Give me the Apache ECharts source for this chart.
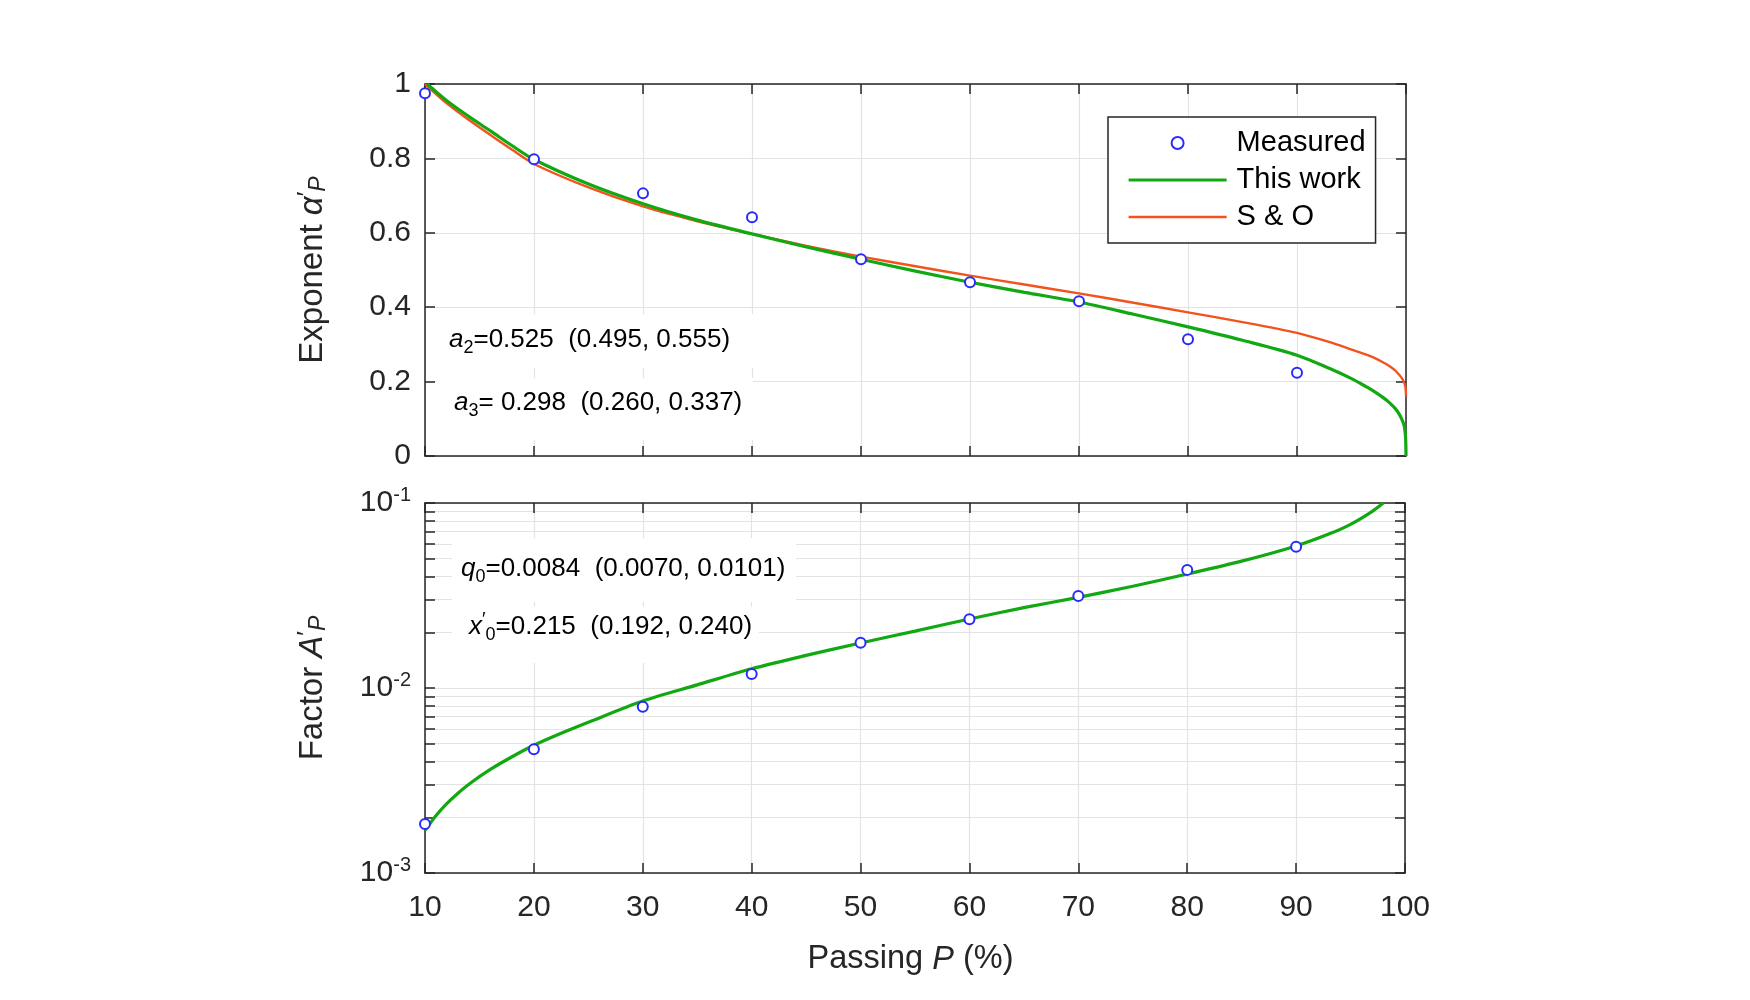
<!DOCTYPE html>
<html><head><meta charset="utf-8">
<script src="https://cdn.jsdelivr.net/npm/echarts@6/dist/echarts.min.js"></script>
<style>html,body{margin:0;padding:0;background:#fff}#c{width:1750px;height:1000px}</style>
</head><body><div id="c"></div>
<script>
// ---------- data ----------
const measuredP = [10, 20, 30, 40, 50, 60, 70, 80, 90];
const measuredAlpha = [0.975, 0.798, 0.706, 0.642, 0.529, 0.467, 0.416, 0.314, 0.224];
const measuredA = [0.00184, 0.00467, 0.00792, 0.0119, 0.01754, 0.0235, 0.0314, 0.0435, 0.058];

const thisWorkAlphaP = [10.2, 12, 14, 16, 18, 20, 25, 30, 35, 40, 45, 50, 55, 60, 65, 70, 75, 80, 85, 90, 93, 95, 96.3, 97, 98, 98.5, 99, 99.35, 99.6, 99.8, 99.9, 99.97, 100];
const thisWorkAlpha  = [1.0, 0.955, 0.913, 0.874, 0.834, 0.797, 0.731, 0.678, 0.634, 0.597, 0.562, 0.529, 0.497, 0.467, 0.44, 0.414, 0.381, 0.347, 0.311, 0.271, 0.235, 0.208, 0.187, 0.175, 0.155, 0.143, 0.128, 0.114, 0.1, 0.085, 0.07, 0.045, 0.0];

const soAlphaP = [10, 12, 14, 16, 18, 20, 25, 30, 35, 40, 45, 50, 55, 60, 65, 70, 75, 80, 85, 90, 93, 95, 96.3, 97, 98, 98.5, 99, 99.35, 99.6, 99.8, 99.95, 100];
const soAlpha  = [1.0, 0.948, 0.904, 0.863, 0.823, 0.785, 0.722, 0.671, 0.631, 0.597, 0.565, 0.536, 0.51, 0.485, 0.461, 0.437, 0.412, 0.386, 0.36, 0.331, 0.306, 0.286, 0.273, 0.265, 0.25, 0.241, 0.23, 0.219, 0.21, 0.2, 0.185, 0.16];

const thisWorkAP = [10, 11, 12, 13, 14, 16, 18, 20, 22.5, 25, 30, 35, 40, 45, 50, 55, 60, 65, 70, 75, 80, 85, 90, 93, 95, 97, 98];
const thisWorkA  = [0.0017, 0.00204, 0.00237, 0.00269, 0.00301, 0.00363, 0.00425, 0.0049, 0.00569, 0.00653, 0.00851, 0.0104, 0.0127, 0.015, 0.0175, 0.0203, 0.0236, 0.0272, 0.0309, 0.0355, 0.0413, 0.0485, 0.0586, 0.0679, 0.0767, 0.0902, 0.1];

const xTickValues = [10, 20, 30, 40, 50, 60, 70, 80, 90, 100];
const alphaTickValues = [0, 0.2, 0.4, 0.6, 0.8, 1];
const aMajorTicks = [0.001, 0.01, 0.1];
const aMinorTicks = [0.002, 0.003, 0.004, 0.005, 0.006, 0.007, 0.008, 0.009, 0.02, 0.03, 0.04, 0.05, 0.06, 0.07, 0.08, 0.09];

const legendNames = ['Measured', 'This work', 'S & O'];
const annTop = ['=0.525  (0.495, 0.555)', '= 0.298  (0.260, 0.337)'];
const annBottom = ['=0.0084  (0.0070, 0.0101)', '=0.215  (0.192, 0.240)'];

// ---------- styles ----------
const FONT = '"Liberation Sans", Arial, Helvetica, sans-serif';
const AX = '#262626';
const GRIDC = '#e3e3e3';
const GREEN = '#12a812';
const RED = '#f2531d';
const BLUE = '#2a2aff';
const TICKFS = 30;

const zip = (a, b) => a.map((v, i) => [v, b[i]]);

function xAx(gridIndex, opts) {
  return Object.assign({
    type: 'value', gridIndex, min: 10, max: 100, interval: 10,
    axisLine: { show: true, onZero: false, lineStyle: { color: AX, width: 1.5 } },
    axisTick: { show: true, inside: true, length: 10, lineStyle: { color: AX, width: 1.5 } },
    axisLabel: { show: false },
    splitLine: { show: false }
  }, opts);
}

const sideAxisCommon = {
  axisLine: { show: true, onZero: false, lineStyle: { color: AX, width: 1.5 } },
  axisTick: { show: true, inside: true, length: 10, lineStyle: { color: AX, width: 1.5 } },
};

function nameRich(fs) {
  return {
    n: { fontSize: fs, color: AX, fontFamily: FONT },
    i: { fontSize: fs, color: AX, fontFamily: FONT, fontStyle: 'italic' },
    p: { fontSize: fs * 0.75, color: AX, fontFamily: FONT, verticalAlign: 'top' },
    s: { fontSize: fs * 0.7, color: AX, fontFamily: FONT, fontStyle: 'italic', verticalAlign: 'bottom', padding: [12, 0, 0, 0] }
  };
}

function annRich() {
  return {
    i: { fontSize: 26, fill: '#000', fontFamily: FONT, fontStyle: 'italic', lineHeight: 32 },
    t: { fontSize: 26, fill: '#000', fontFamily: FONT, lineHeight: 32 },
    b: { fontSize: 18, fill: '#000', fontFamily: FONT, verticalAlign: 'bottom', padding: [16, 0, 0, 0] },
    p: { fontSize: 19, fill: '#000', fontFamily: FONT, verticalAlign: 'top' }
  };
}

const option = {
  animation: false,
  backgroundColor: '#ffffff',
  textStyle: { fontFamily: FONT },
  grid: [
    { left: 425, top: 84, width: 981, height: 372 },
    { left: 425, top: 503, width: 980, height: 370 }
  ],
  xAxis: [
    xAx(0, { splitLine: { show: true, lineStyle: { color: GRIDC, width: 1.2 } } }),
    xAx(0, { position: 'top' }),
    xAx(1, {
      splitLine: { show: true, lineStyle: { color: GRIDC, width: 1.2 } },
      axisLabel: { show: true, margin: 20, fontSize: TICKFS, color: AX, fontFamily: FONT },
      name: '{n|Passing }{i|P}{n| (%)}', nameLocation: 'middle', nameGap: 70,
      nameTextStyle: { padding: [0, 9, 0, 0], rich: nameRich(32.5) }
    }),
    xAx(1, { position: 'top' })
  ],
  yAxis: [
    Object.assign({}, sideAxisCommon, {
      type: 'value', gridIndex: 0, min: 0, max: 1, interval: 0.2, position: 'left',
      axisLabel: { show: true, margin: 14, fontSize: TICKFS, color: AX, fontFamily: FONT },
      splitLine: { show: true, lineStyle: { color: GRIDC, width: 1.2 } },
      name: '{n|Exponent }{i|α}{p|′}{s|P}', nameLocation: 'middle', nameGap: 95, nameRotate: 90,
      nameTextStyle: { rich: nameRich(33) }
    }),
    Object.assign({}, sideAxisCommon, {
      type: 'value', gridIndex: 0, min: 0, max: 1, interval: 0.2, position: 'right',
      axisLabel: { show: false }, splitLine: { show: false }
    }),
    Object.assign({}, sideAxisCommon, {
      type: 'log', logBase: 10, gridIndex: 1, min: 0.001, max: 0.1, position: 'left',
      axisTick: { show: true, inside: true, length: 10, lineStyle: { color: AX, width: 1.5 },
        customValues: aMajorTicks.concat(aMinorTicks) },
      axisLabel: { show: true, margin: 14, customValues: aMajorTicks,
        formatter: v => '{b|10}{s|' + Math.round(Math.log10(v)) + '}',
        rich: {
          b: { fontSize: TICKFS, color: AX, fontFamily: FONT, lineHeight: 36 },
          s: { fontSize: 20, color: AX, fontFamily: FONT, verticalAlign: 'top', padding: [0, 0, 12, 0] }
        } },
      splitLine: { show: true, lineStyle: { color: GRIDC, width: 1.2 } },
      name: '{n|Factor }{i|A}{p|′}{s|P}', nameLocation: 'middle', nameGap: 95, nameRotate: 90,
      nameTextStyle: { rich: nameRich(33) }
    }),
    Object.assign({}, sideAxisCommon, {
      type: 'log', logBase: 10, gridIndex: 1, min: 0.001, max: 0.1, position: 'right',
      axisTick: { show: true, inside: true, length: 10, lineStyle: { color: AX, width: 1.5 },
        customValues: aMajorTicks.concat(aMinorTicks) },
      axisLabel: { show: false }, splitLine: { show: false }
    })
  ],
  legend: {
    data: [
      { name: legendNames[0] },
      { name: legendNames[1], itemStyle: { opacity: 0 }, lineStyle: { width: 3.2, color: GREEN } },
      { name: legendNames[2], itemStyle: { opacity: 0 }, lineStyle: { width: 2.4, color: RED } }
    ],
    orient: 'vertical', left: 1108, top: 117,
    backgroundColor: '#ffffff', borderColor: AX, borderWidth: 1.5, borderRadius: 0,
    padding: [11, 10, 11, 19],
    itemWidth: 98, itemHeight: 12, itemGap: 7,
    textStyle: { fontSize: 29, color: '#000', fontFamily: FONT, lineHeight: 30, padding: [0, 0, 0, 5] }
  },
  series: [
    {
      name: 'S & O', type: 'line', xAxisIndex: 0, yAxisIndex: 0,
      data: zip(soAlphaP, soAlpha), symbol: 'none', smooth: 0.3,
      lineStyle: { color: RED, width: 2.4 }, itemStyle: { color: RED }, z: 3
    },
    {
      name: 'This work', type: 'line', xAxisIndex: 0, yAxisIndex: 0,
      data: zip(thisWorkAlphaP, thisWorkAlpha), symbol: 'none', smooth: 0.3,
      lineStyle: { color: GREEN, width: 3.2 }, itemStyle: { color: GREEN }, z: 4
    },
    {
      name: 'Measured', type: 'scatter', xAxisIndex: 0, yAxisIndex: 0,
      data: zip(measuredP, measuredAlpha), symbol: 'emptyCircle', symbolSize: 10,
      itemStyle: { color: BLUE, borderWidth: 1.6, opacity: 1 }, z: 5
    },
    {
      name: 'This work', type: 'line', xAxisIndex: 2, yAxisIndex: 2,
      data: zip(thisWorkAP, thisWorkA), symbol: 'none', smooth: 0.3,
      lineStyle: { color: GREEN, width: 3.2 }, itemStyle: { color: GREEN }, z: 4
    },
    {
      name: 'Measured', type: 'scatter', xAxisIndex: 2, yAxisIndex: 2,
      data: zip(measuredP, measuredA), symbol: 'emptyCircle', symbolSize: 10,
      itemStyle: { color: BLUE, borderWidth: 1.6, opacity: 1 }, z: 5
    }
  ],
  graphic: [
    { type: 'rect', shape: { x: 437, y: 314, width: 316, height: 54 }, style: { fill: '#fff' }, z: 2 },
    { type: 'rect', shape: { x: 437, y: 378, width: 316, height: 62 }, style: { fill: '#fff' }, z: 2 },
    { type: 'rect', shape: { x: 452, y: 538, width: 344, height: 64 }, style: { fill: '#fff' }, z: 2 },
    { type: 'rect', shape: { x: 452, y: 607, width: 307, height: 56 }, style: { fill: '#fff' }, z: 2 },
    { type: 'text', x: 449, y: 340, z: 3, style: { text: '{i|a}{b|2}{t|' + annTop[0] + '}', textVerticalAlign: 'middle', rich: annRich() } },
    { type: 'text', x: 454, y: 403, z: 3, style: { text: '{i|a}{b|3}{t|' + annTop[1] + '}', textVerticalAlign: 'middle', rich: annRich() } },
    { type: 'text', x: 461, y: 569, z: 3, style: { text: '{i|q}{b|0}{t|' + annBottom[0] + '}', textVerticalAlign: 'middle', rich: annRich() } },
    { type: 'text', x: 469, y: 627, z: 3, style: { text: '{i|x}{p|′}{b|0}{t|' + annBottom[1] + '}', textVerticalAlign: 'middle', rich: annRich() } }
  ]
};

const chart = echarts.init(document.getElementById('c'), null, { renderer: 'canvas' });
chart.setOption(option);
</script>
</body></html>
